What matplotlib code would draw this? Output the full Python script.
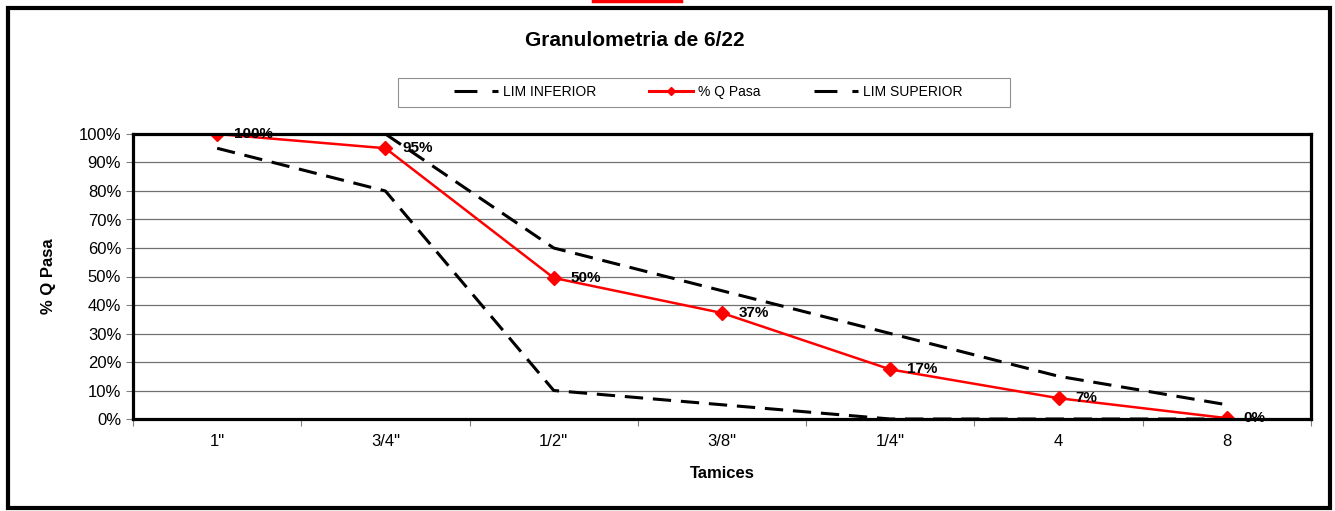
import matplotlib
matplotlib.use("Agg")
from matplotlib import pyplot as plt
from matplotlib.patches import Rectangle
from matplotlib.lines import Line2D
from matplotlib.ticker import FixedLocator, PercentFormatter

plt.rcParams['font.family'] = ['Liberation Sans', 'DejaVu Sans']

tamices = ['1"', '3/4"', '1/2"', '3/8"', '1/4"', '4', '8']
lim_inferior = [95, 80, 10, 5, 0, 0, 0]
q_pasa = [100, 95, 49.5, 37.2, 17.4, 7.3, 0.3]
q_labels = ["100%", "95%", "50%", "37%", "17%", "7%", "0%"]
lim_superior = [100, 100, 60, 45, 30, 15, 5]

DASH = (6, 3.2)
LEG_DASH = (7.5, 4.9, 2.3, 3)

fig = plt.figure(figsize=(13.35, 5.11), dpi=100)
ax = fig.add_axes([133 / 1335, 92 / 511, 1178 / 1335, 285 / 511])

x = range(len(tamices))
ax.plot(x, lim_inferior, color="black", lw=2.2, dashes=DASH, zorder=3)
ax.plot(x, lim_superior, color="black", lw=2.2, dashes=DASH, zorder=3)
ax.plot(x, q_pasa, color="#ff0000", lw=1.8, marker="D", markersize=7,
        zorder=4)
for xi, yi, lab in zip(x, q_pasa, q_labels):
    ax.annotate(lab, (xi, yi), xytext=(12, 0), textcoords="offset points",
                va="center", ha="left", fontsize=11, fontweight="bold",
                zorder=5)

ax.set_xlim(-0.5, len(tamices) - 0.5)
ax.set_ylim(0, 100)
ax.set_xticks(list(x))
ax.set_xticklabels(tamices, fontsize=12)
ax.xaxis.set_minor_locator(FixedLocator([i + 0.5 for i in range(-1, len(tamices))]))
ax.tick_params(axis="x", which="major", length=0, pad=11)
ax.tick_params(axis="x", which="minor", length=5, color="#808080", width=0.8)
ax.set_yticks(range(0, 101, 10))
ax.yaxis.set_major_formatter(PercentFormatter(decimals=0))
ax.tick_params(axis="y", length=5, width=0.8, color="#808080", labelsize=12)
ax.grid(axis="y", color="#707070", lw=0.9)
ax.set_axisbelow(True)
for sp in ax.spines.values():
    sp.set_linewidth(2.3)
    sp.set_color("black")
    sp.set_zorder(6)

ax.set_xlabel("Tamices", fontsize=12, fontweight="bold", labelpad=12)
ax.set_ylabel("% Q Pasa", fontsize=12, fontweight="bold", labelpad=16)

fig.text(635 / 1335, 1 - 41 / 511, "Granulometria de 6/22", ha="center",
         va="center", fontsize=15, fontweight="bold")

handles = [
    Line2D([], [], color="black", lw=2.2, dashes=LEG_DASH),
    Line2D([], [], color="#ff0000", lw=2.2, marker="D", markersize=4),
    Line2D([], [], color="black", lw=2.2, dashes=LEG_DASH),
]
fig.legend(handles, ["LIM INFERIOR", "% Q Pasa", "LIM SUPERIOR"],
           loc="center", ncol=3, fontsize=10, frameon=False,
           bbox_to_anchor=(708 / 1335, 1 - 92 / 511),
           handlelength=3.2, handletextpad=0.35, columnspacing=3.8,
           borderaxespad=0)
fig.add_artist(Rectangle((398 / 1335, 1 - 107 / 511), 612 / 1335, 29 / 511,
                         transform=fig.transFigure, fill=False,
                         edgecolor="#909090", lw=0.8))

fig.add_artist(Rectangle((8 / 1335, 3 / 511), 1322 / 1335, 500 / 511,
                         transform=fig.transFigure, fill=False,
                         edgecolor="black", lw=3))
fig.add_artist(Line2D([593 / 1335, 681 / 1335], [1 - 1 / 511, 1 - 1 / 511],
                      transform=fig.transFigure, color="#ff0000", lw=2.5))

fig.savefig("out.png", dpi=100)
